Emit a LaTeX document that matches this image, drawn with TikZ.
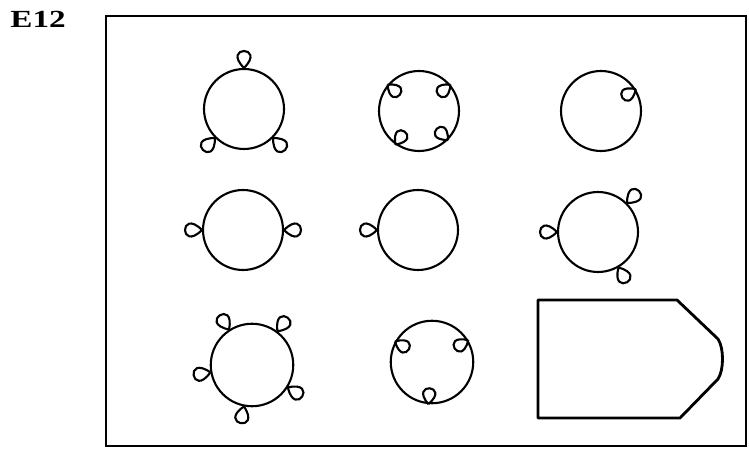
\documentclass[tikz,border=0pt]{standalone}
\usepackage{fontspec}
\setmainfont{Liberation Serif}
\tikzset{
  ring/.style={circle, draw, line width=1.2pt, minimum size=1.6cm, inner sep=0pt},
  lobe/.style={line width=1.2pt},
  frame/.style={line width=1.3pt}
}
\begin{document}
\begin{tikzpicture}[x=0.02cm, y=0.02cm]
  \useasboundingbox (0,0) rectangle (749,456);
  \node[font=\fontsize{14}{16}\selectfont\bfseries, xscale=1.35, anchor=west] (title) at (2,437) {E12};
  \draw[frame] (106,10) rectangle (746,440);
  \node[ring] (c1) at (244,347) {};
  \node[ring] (c2) at (419,345) {};
  \node[ring] (c3) at (601,345) {};
  \node[ring] (c4) at (243,226) {};
  \node[ring] (c5) at (418,226) {};
  \node[ring] (c6) at (598,224) {};
  \node[ring, minimum size=1.65cm] (c7) at (252,91) {};
  \node[ring, minimum size=1.65cm] (c8) at (432,94) {};
  \foreach \c/\a in {c1/90, c1/225, c1/315, c4/0, c4/180, c5/180, c6/45, c6/180, c6/300,
                     c7/53, c7/123, c7/190, c7/259, c7/328}
    \draw[lobe] (\c.\a) .. controls +({\a+45}:32) and +({\a-45}:32) .. (\c.\a);
  \foreach \c/\a in {c2/40, c2/140, c2/235, c2/315, c3/32, c8/31, c8/151, c8/265}
    \draw[lobe] (\c.\a) .. controls +({\a+135}:30) and +({\a+225}:30) .. (\c.\a);
  \draw[line width=1.6pt, line join=round] (538,156) -- (677,156) -- (718,117)
    .. controls (724,108) and (724,86) .. (718,77) -- (680,38) -- (538,38) -- cycle;
\end{tikzpicture}
\end{document}
